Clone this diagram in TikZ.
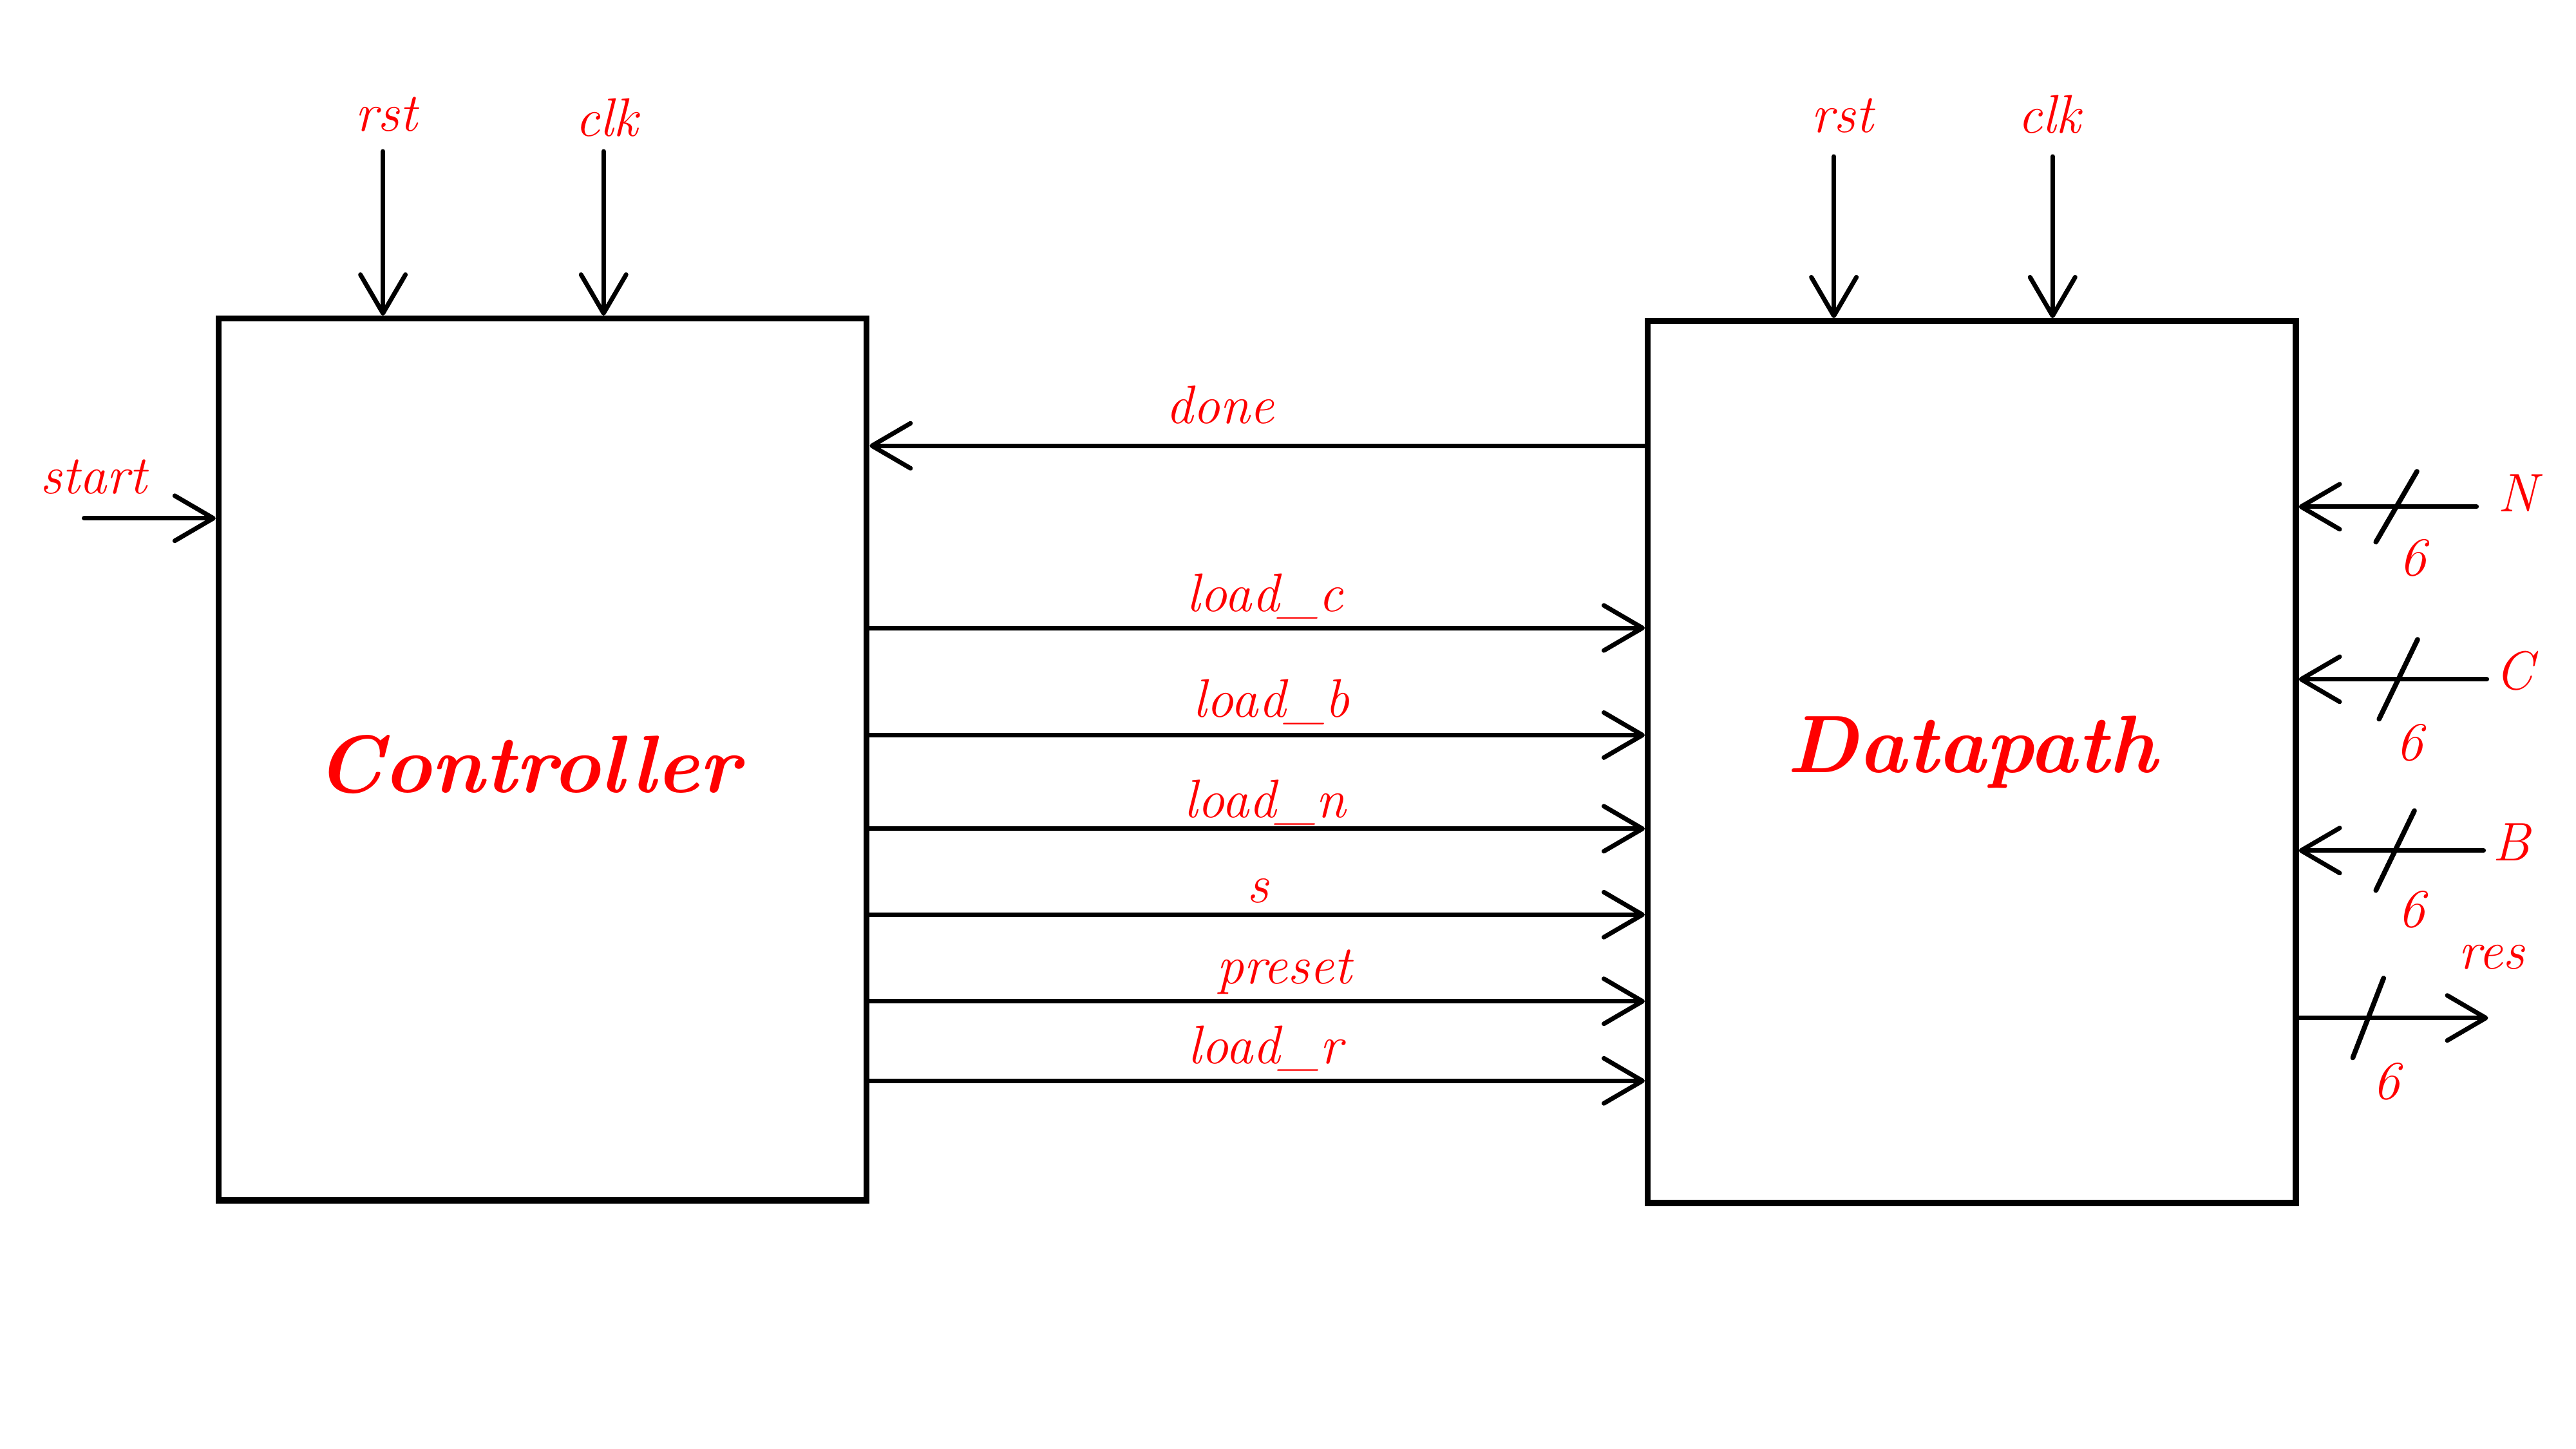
\documentclass[tikz,border=0pt]{standalone}
\usepackage{tikz}
\usetikzlibrary{arrows.meta}
\begin{document}
\begin{tikzpicture}[x=0.0996mm,y=-0.0996mm]
	\tikzstyle{every node}+=[inner sep=0pt]
	\tikzstyle{block}=[draw,line width=2.7pt,minimum width=10.06cm,minimum height=13.69cm]
	\tikzstyle{sig}=[line width=2pt,line cap=round,-{Straight Barb[length=6mm,width=7mm,round]}]
	\tikzstyle{busmark}=[line width=2.2pt,line cap=round]
	\tikzstyle{lbl}=[text=red,font=\fontsize{24}{28}\selectfont\itshape]
	\tikzstyle{title}=[text=red,font=\fontsize{36}{40}\selectfont\bfseries\itshape]
	\useasboundingbox (0,0) rectangle (4016,2259);
	% the two blocks
	\node [block] (ctrl) at (846,1184) {};
	\node [title] (ctrltxt) at (823,1192) {Controller};
	\node [block] (dp) at (3074,1188) {};
	\node [title] (dptxt) at (3074,1172) {Datapath};
	% clocks and resets
	\coordinate (crst) at (597,236);
	\coordinate (cclk) at (941,236);
	\coordinate (drst) at (2859,244);
	\coordinate (dclk) at (3200,244);
	\draw [sig] (crst) -- (crst |- ctrl.north);
	\draw [sig] (cclk) -- (cclk |- ctrl.north);
	\draw [sig] (drst) -- (drst |- dp.north);
	\draw [sig] (dclk) -- (dclk |- dp.north);
	\node [lbl] (crstlbl) at (602,178) {rst};
	\node [lbl] (cclklbl) at (946,183) {clk};
	\node [lbl] (drstlbl) at (2872,180) {rst};
	\node [lbl] (dclklbl) at (3195,178) {clk};
	% start
	\coordinate (start) at (131,808);
	\draw [sig] (start) -- (start -| ctrl.west);
	\node [lbl] (startlbl) at (146,744) {start};
	% controller <-> datapath
	\coordinate (done) at (0,695);
	\coordinate (ldc) at (0,979);
	\coordinate (ldb) at (0,1146);
	\coordinate (ldn) at (0,1292);
	\coordinate (sel) at (0,1426);
	\coordinate (pre) at (0,1561);
	\coordinate (ldr) at (0,1685);
	\draw [sig] (done -| dp.west) -- (done -| ctrl.east);
	\draw [sig] (ldc -| ctrl.east) -- (ldc -| dp.west);
	\draw [sig] (ldb -| ctrl.east) -- (ldb -| dp.west);
	\draw [sig] (ldn -| ctrl.east) -- (ldn -| dp.west);
	\draw [sig] (sel -| ctrl.east) -- (sel -| dp.west);
	\draw [sig] (pre -| ctrl.east) -- (pre -| dp.west);
	\draw [sig] (ldr -| ctrl.east) -- (ldr -| dp.west);
	\node [lbl] (donelbl) at (1902,631) {done};
	\node [lbl] (ldclbl) at (1972,930) {load\_c};
	\node [lbl] (ldblbl) at (1982,1094) {load\_b};
	\node [lbl] (ldnlbl) at (1972,1251) {load\_n};
	\node [lbl] (sellbl) at (1961,1389) {s};
	\node [lbl] (prelbl) at (2002,1515) {preset};
	\node [lbl] (ldrlbl) at (1972,1635) {load\_r};
	% buses on the right
	\coordinate (nin) at (3861,790);
	\coordinate (cin) at (3877,1059);
	\coordinate (bin) at (3872,1326);
	\coordinate (resout) at (3879,1587);
	\draw [sig] (nin) -- (nin -| dp.east);
	\draw [sig] (cin) -- (cin -| dp.east);
	\draw [sig] (bin) -- (bin -| dp.east);
	\draw [sig] (resout -| dp.east) -- (resout);
	\draw [busmark] (3736,790) ++(-32,55) -- ++(64,-110);
	\draw [busmark] (3739,1059) ++(-30,62) -- ++(60,-124);
	\draw [busmark] (3734,1326) ++(-30,62) -- ++(60,-124);
	\draw [busmark] (3692,1587) ++(-24,62) -- ++(48,-124);
	\node [lbl] (nlbl) at (3925,769) {N};
	\node [lbl] (clbl) at (3920,1046) {C};
	\node [lbl] (blbl) at (3915,1313) {B};
	\node [lbl] (reslbl) at (3884,1492) {res};
	\node [lbl] (nw) at (3762,870) {6};
	\node [lbl] (cw) at (3757,1158) {6};
	\node [lbl] (bw) at (3760,1418) {6};
	\node [lbl] (resw) at (3720,1686) {6};
\end{tikzpicture}
\end{document}
